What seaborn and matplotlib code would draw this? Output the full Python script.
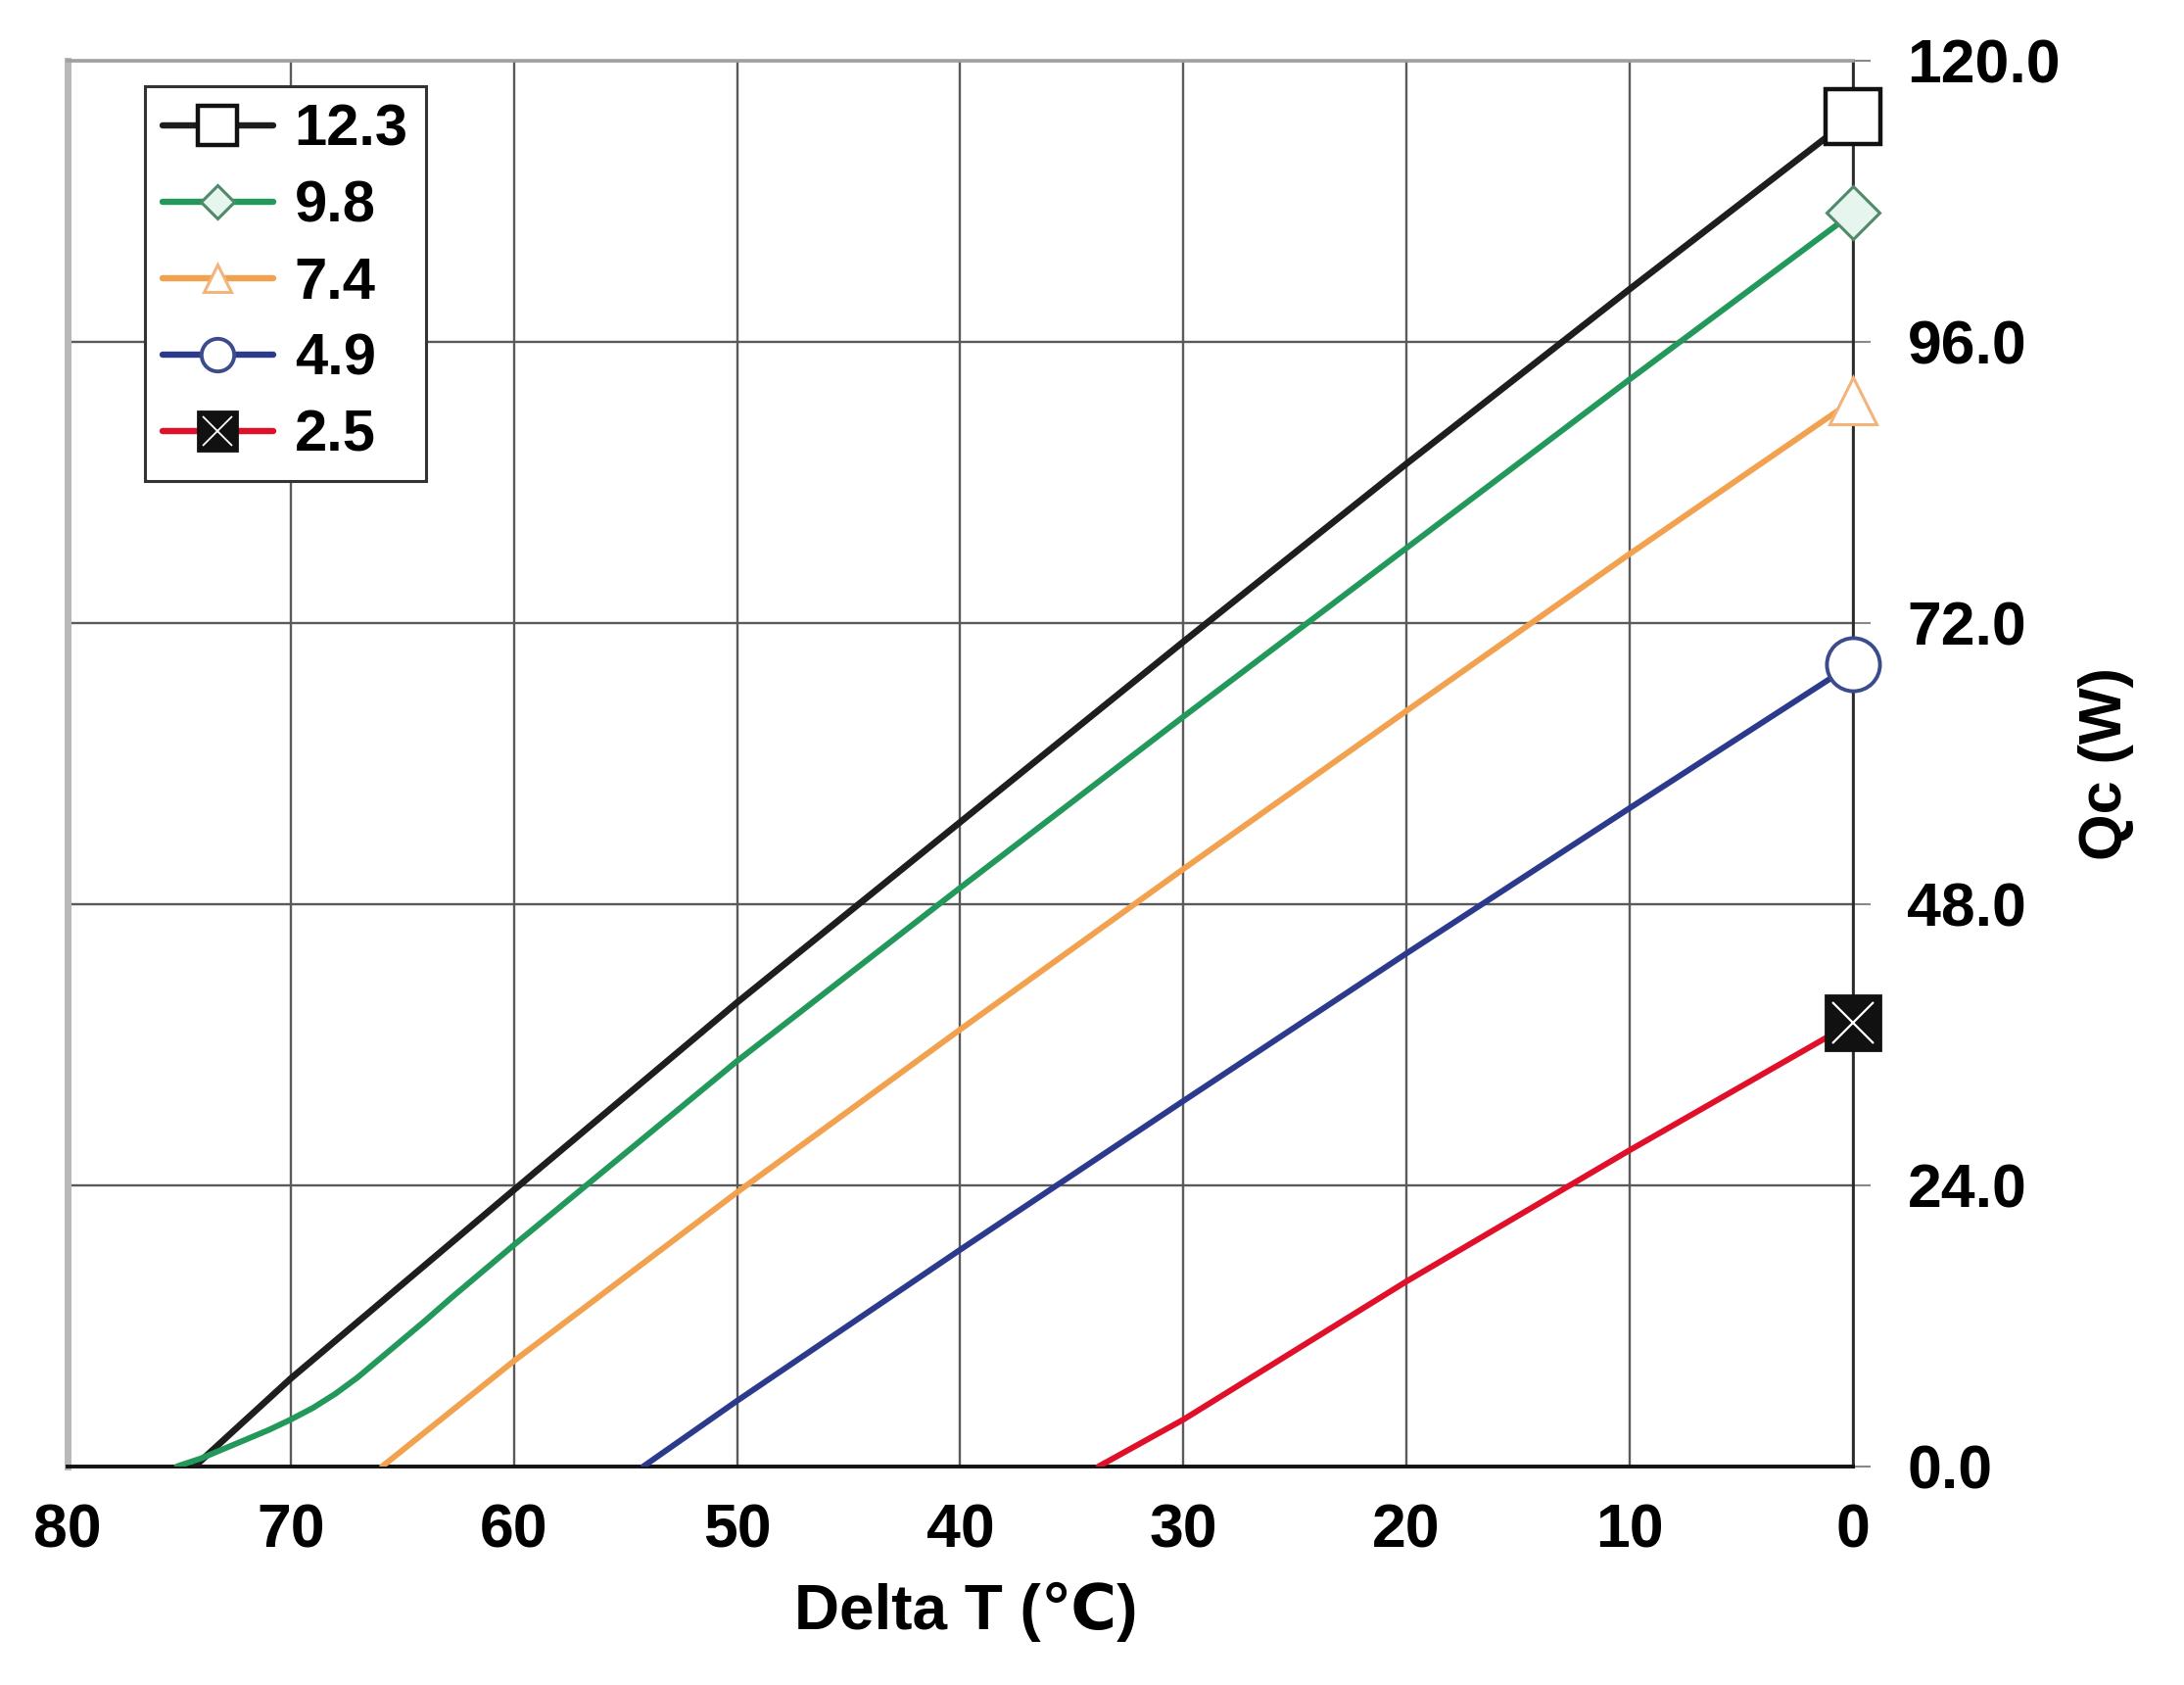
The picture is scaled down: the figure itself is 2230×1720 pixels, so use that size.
import matplotlib
matplotlib.use('Agg')
import matplotlib.pyplot as plt
from matplotlib.lines import Line2D
import seaborn as sns
import pandas as pd

# Cooling power Qc (W) vs Delta T for five drive currents (A)
currents = ['12.3', '9.8', '7.4', '4.9', '2.5']

dt_123 = [74.3, 70, 60, 50, 40, 30, 20, 10, 0]
qc_123 = [0.0, 7.5, 23.6, 39.6, 55.0, 70.4, 85.6, 100.5, 115.2]
dt_98 = [75.1, 74, 73, 72, 71, 70, 69, 68, 67, 66, 65, 64, 62.8, 60, 50, 40, 30, 20, 10, 0]
qc_98 = [0.0, 0.7, 1.5, 2.3, 3.1, 4.0, 5.0, 6.2, 7.6, 9.2, 10.8, 12.4, 14.4, 18.9,
         34.6, 49.4, 64.0, 78.4, 92.8, 107.0]
dt_74 = [65.9, 60, 50, 40, 30, 20, 10, 0]
qc_74 = [0.0, 9.0, 23.4, 37.3, 51.0, 64.5, 77.9, 91.0]
dt_49 = [54.2, 50, 40, 30, 20, 10, 0]
qc_49 = [0.0, 5.6, 18.5, 31.2, 43.8, 56.2, 68.5]
dt_25 = [33.8, 30, 20, 10, 0]
qc_25 = [0.0, 4.0, 15.8, 27.0, 37.9]

x_ticks = [80, 70, 60, 50, 40, 30, 20, 10, 0]
y_ticks = [0, 24, 48, 72, 96, 120]

series_dt = [dt_123, dt_98, dt_74, dt_49, dt_25]
series_qc = [qc_123, qc_98, qc_74, qc_49, qc_25]

rows = []
for cur, xs, ys in zip(currents, series_dt, series_qc):
    for xv, yv in zip(xs, ys):
        rows.append({'current': cur, 'dt': xv, 'qc': yv})
df = pd.DataFrame(rows)

line_colors = ['#1e1e1e', '#22995a', '#f2a14f', '#2b3a8c', '#e0102a']
line_widths = [4.8, 4.3, 4.3, 4.3, 4.3]
# marker styles: (marker, size in plot, size in legend, face, edge, edge width)
marker_styles = [
    ('s', 40, 29, 'white', '#111111', 3.2),
    ('D', 28, 17, '#e6f6ee', '#4f8a6a', 2.2),
    ('^', 35, 20, 'white', '#f2b47a', 2.2),
    ('o', 39, 24, 'white', '#3b4b8c', 2.8),
    ('s', 40, 29, '#111111', '#111111', 2.0),
]

sns.set_style('white')
plt.rcParams['font.family'] = ['Liberation Sans', 'DejaVu Sans']
plt.rcParams['font.weight'] = 'bold'
plt.rcParams['text.color'] = 'black'
plt.rcParams['axes.labelcolor'] = 'black'

fig = plt.figure(figsize=(22.3, 17.2), dpi=100)
ax = fig.add_axes([0.0309, 0.1297, 0.8175, 0.8343])

for i, cur in enumerate(currents):
    sns.lineplot(data=df[df['current'] == cur], x='dt', y='qc',
                 color=line_colors[i], estimator=None, sort=False,
                 lw=line_widths[i], legend=False, ax=ax, zorder=3)

# end markers at Delta T = 0
for i, (xs, ys) in enumerate(zip(series_dt, series_qc)):
    m, ms, _, fc, ec, mew = marker_styles[i]
    ax.plot(xs[-1], ys[-1], marker=m, ms=ms, mfc=fc, mec=ec, mew=mew,
            linestyle='none', clip_on=False, zorder=6)
    if currents[i] == '2.5':
        ax.plot(xs[-1], ys[-1], marker='x', ms=ms * 0.75, mec='white', mew=1.6,
                linestyle='none', clip_on=False, zorder=7)

ax.set_xlim(80, 0)
ax.set_ylim(0, 120)
ax.set_xticks(x_ticks)
ax.set_xticklabels([str(v) for v in x_ticks])
ax.set_yticks(y_ticks)
ax.set_yticklabels([f'{v:.1f}' for v in y_ticks])
ax.yaxis.tick_right()
ax.yaxis.set_label_position('right')

ax.set_axisbelow(True)
ax.grid(True, color='#5a5a5a', linewidth=1.7)
ax.tick_params(axis='x', length=13, width=1.5, color='#888888', pad=13,
               labelsize=45, labelcolor='black')
ax.tick_params(axis='y', length=13, width=1.5, color='#888888', pad=27,
               labelsize=45, labelcolor='black')

ax.spines['left'].set_color('#b8b8b8')
ax.spines['left'].set_linewidth(5)
ax.spines['top'].set_color('#a0a0a0')
ax.spines['top'].set_linewidth(2.6)
ax.spines['bottom'].set_color('#111111')
ax.spines['bottom'].set_linewidth(2.8)
ax.spines['right'].set_color('#2a2a2a')
ax.spines['right'].set_linewidth(2.0)

ax.set_xlabel('Delta T (℃)', fontsize=46, fontweight='bold', color='black')
ax.xaxis.set_label_coords(0.503, -0.082)
ax.set_ylabel('Qc (W)', fontsize=44, fontweight='bold', rotation=90, color='black')
ax.yaxis.set_label_coords(1.126, 0.5)

# legend
handles = []
for i, cur in enumerate(currents):
    m, _, lms, fc, ec, mew = marker_styles[i]
    h = Line2D([], [], color=line_colors[i], lw=4.6, marker=m, ms=lms,
               mfc=fc, mec=ec, mew=mew)
    if cur == '2.5':
        hx = Line2D([], [], linestyle='none', marker='x', ms=lms * 0.75,
                    mec='white', mew=1.3)
        h = (h, hx)
    handles.append(h)

leg = ax.legend(handles, currents, loc='upper left', bbox_to_anchor=(0.0433, 0.982),
                borderaxespad=0, frameon=True, fancybox=False, borderpad=0.3,
                handlelength=1.9, handletextpad=0.36, labelspacing=0.385,
                prop={'family': ['Liberation Sans', 'DejaVu Sans'], 'weight': 'bold', 'size': 43})
leg.get_frame().set_edgecolor('#333333')
leg.get_frame().set_linewidth(2.2)
leg.get_frame().set_alpha(1)
leg.set_zorder(8)
for t in leg.get_texts():
    t.set_color('black')

fig.savefig('out.png', dpi=100)
